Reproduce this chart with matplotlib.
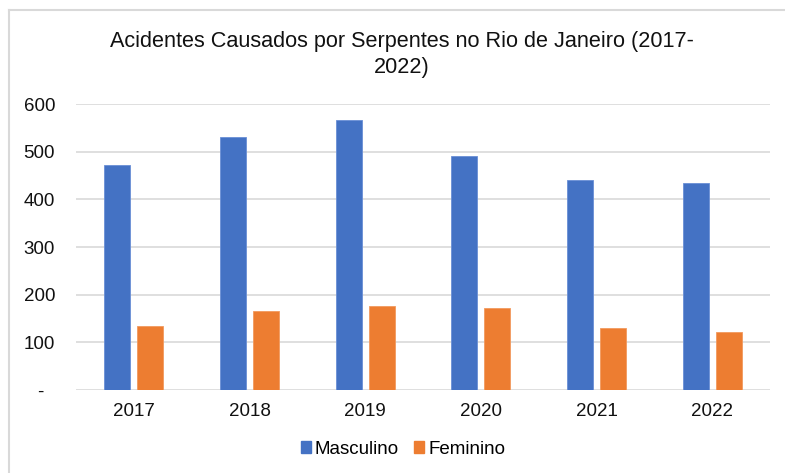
import numpy as np
import matplotlib
matplotlib.use("Agg")
from matplotlib import pyplot as plt
from matplotlib.lines import Line2D
from matplotlib.patches import Patch

plt.rcParams['font.family'] = ['Liberation Sans', 'DejaVu Sans']

anos = ['2017', '2018', '2019', '2020', '2021', '2022']
masculino = [471, 530, 567, 490, 441, 434]
feminino = [134, 165, 176, 172, 131, 121]
yticks = [0, 100, 200, 300, 400, 500, 600]
ylabels = ['-  ', '100', '200', '300', '400', '500', '600']

azul = '#4472c4'
laranja = '#ed7d31'

fig = plt.figure(figsize=(7.85, 4.73), dpi=100)
ax = fig.add_axes([76/785, 1 - 390/473, 694/785, 286/473])

x = np.arange(len(anos))
w = 0.225
ax.bar(x - 0.143, masculino, w, color=azul, edgecolor='#6a8fd6', linewidth=0.6, zorder=3)
ax.bar(x + 0.143, feminino, w, color=laranja, edgecolor='#f29a5e', linewidth=0.6, zorder=3)

ax.set_xlim(-0.5, len(anos) - 0.5)
ax.set_ylim(0, 600)
ax.set_yticks(yticks)
ax.set_yticklabels(ylabels)
ax.set_xticks(x)
ax.set_xticklabels(anos)
ax.yaxis.grid(True, color='#d9d9d9', linewidth=1.2, zorder=0)
for s in ax.spines.values():
    s.set_visible(False)
ax.tick_params(length=0, labelsize=13.5, colors='#111111')
ax.tick_params(axis='y', pad=15)
ax.tick_params(axis='x', pad=9)

fig.text(402/785, 1 - 42/473, 'Acidentes Causados por Serpentes no Rio de Janeiro (2017-',
         ha='center', va='center', fontsize=15.6, color='#111111')
fig.text(402/785, 1 - 67/473, '2022)', ha='center', va='center', fontsize=15.6, color='#111111')

handles = [Patch(color=azul, label='Masculino'), Patch(color=laranja, label='Feminino')]
fig.legend(handles=handles, loc='center', bbox_to_anchor=(403/785, 1 - 449/473), ncol=2,
           frameon=False, fontsize=13.5, handlelength=0.55, handleheight=0.55,
           handletextpad=0.2, columnspacing=0.8)

# chart border (left and top only)
fig.add_artist(Line2D([8.5/785, 8.5/785], [0, 1 - 10.5/473], transform=fig.transFigure,
                      color='#d9d9d9', linewidth=1.5))
fig.add_artist(Line2D([8.5/785, 1], [1 - 10.5/473, 1 - 10.5/473], transform=fig.transFigure,
                      color='#d9d9d9', linewidth=1.5))

fig.savefig('out.png', dpi=100)
